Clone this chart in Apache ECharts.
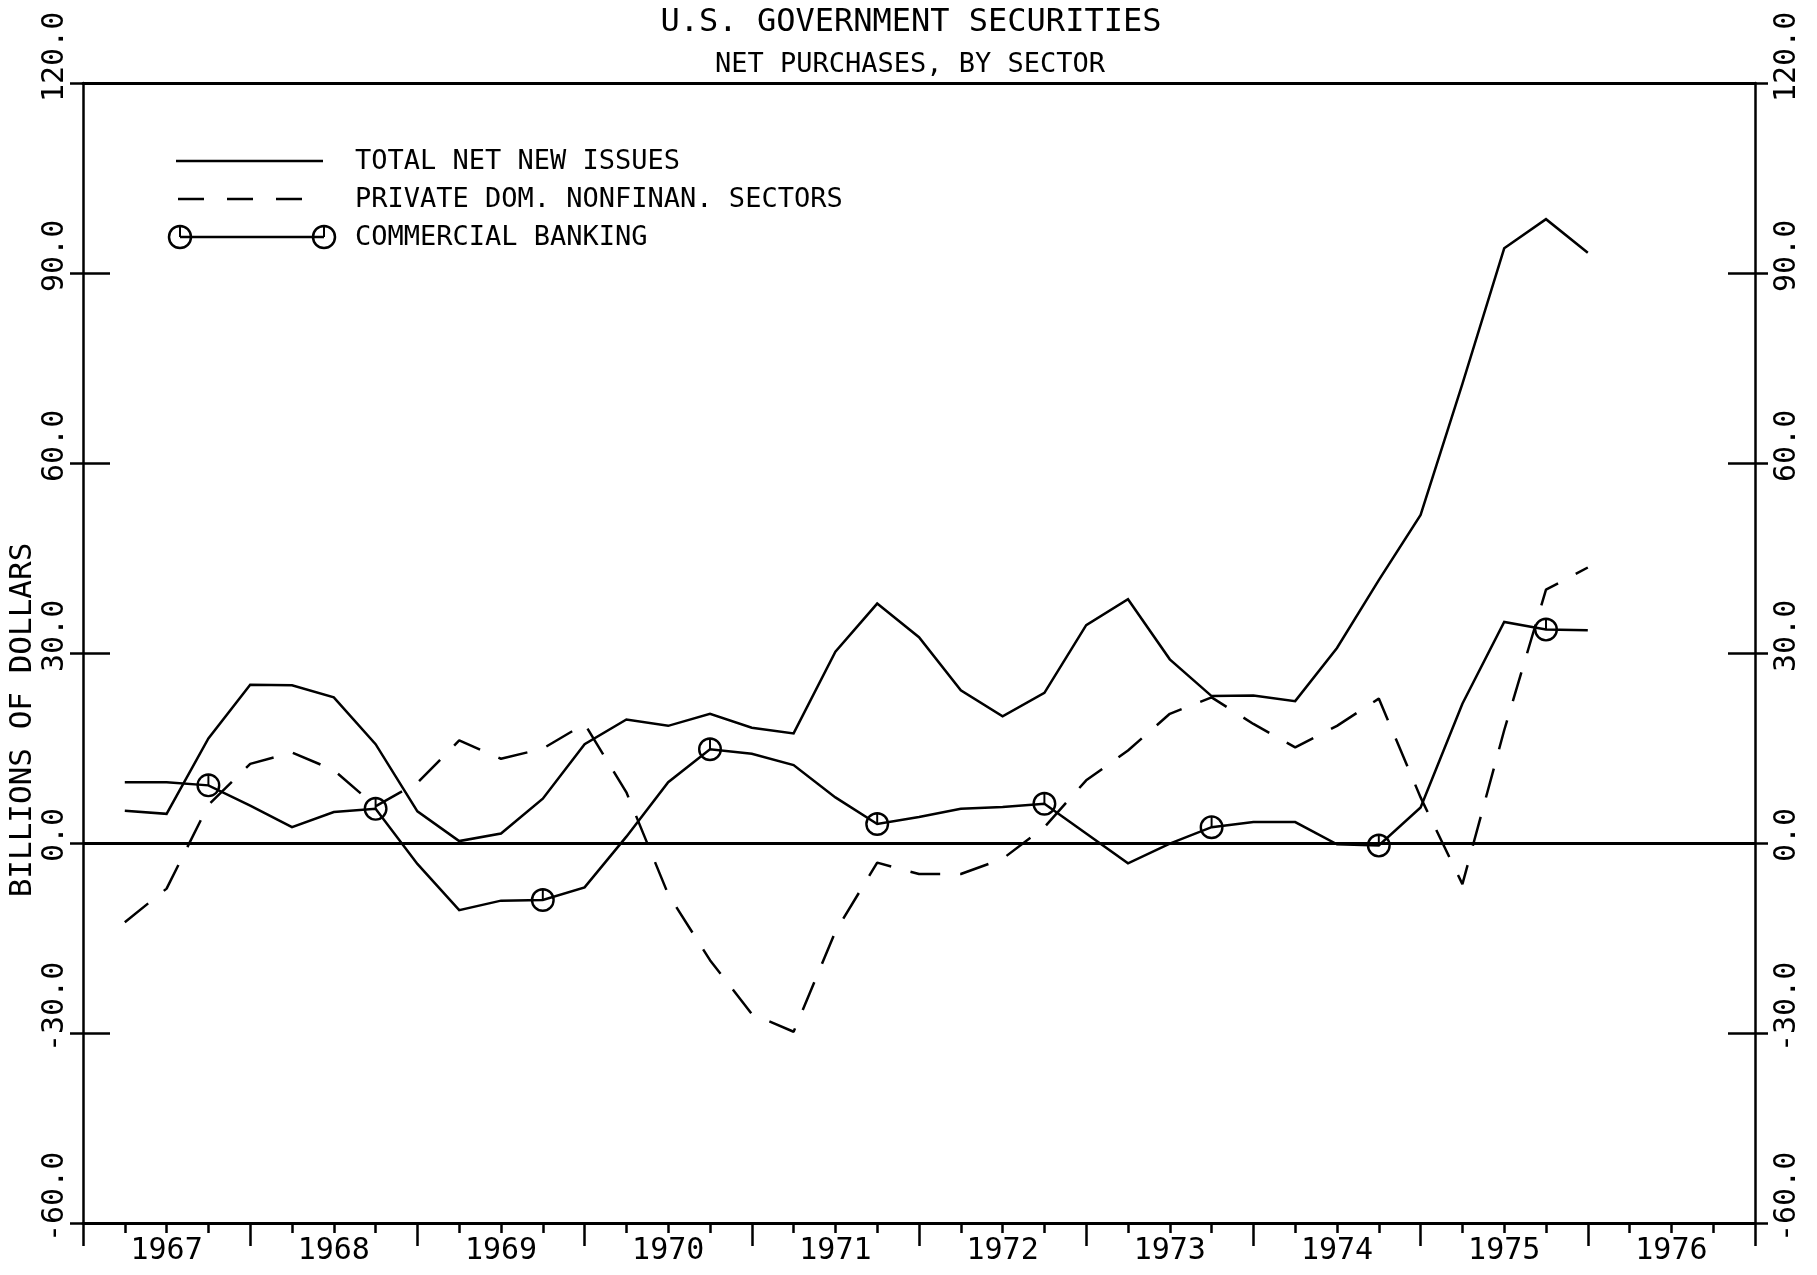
<!DOCTYPE html>
<html><head><meta charset="utf-8">
<script src="https://cdn.jsdelivr.net/npm/echarts@6/dist/echarts.min.js"></script>
<style>html,body{margin:0;padding:0;background:#fff}#c{width:1817px;height:1275px}</style>
</head><body><div id="c"></div>
<script>
// ---- data (quarterly, billions of dollars) ----
const quarters = ['1967Q1','1967Q2','1967Q3','1967Q4','1968Q1','1968Q2','1968Q3','1968Q4',
  '1969Q1','1969Q2','1969Q3','1969Q4','1970Q1','1970Q2','1970Q3','1970Q4',
  '1971Q1','1971Q2','1971Q3','1971Q4','1972Q1','1972Q2','1972Q3','1972Q4',
  '1973Q1','1973Q2','1973Q3','1973Q4','1974Q1','1974Q2','1974Q3','1974Q4',
  '1975Q1','1975Q2','1975Q3','1975Q4'];
const totalNetNewIssues = [5.1, 4.6, 16.5, 25.0, 24.9, 23.0, 15.6, 5.0, 0.3, 1.5, 7.0, 15.6,
  19.5, 18.5, 20.4, 18.2, 17.3, 30.2, 37.8, 32.5, 24.1, 20.0, 23.7, 34.4,
  38.5, 29.0, 23.2, 23.3, 22.4, 30.8, 41.5, 51.8, 72.5, 93.9, 98.5, 93.2];
const privateDomNonfinan = [-12.5, -7.2, 6.0, 12.5, 14.3, 11.5, 5.8, 9.5, 16.2, 13.3, 14.9, 18.8,
  8.0, -8.1, -18.5, -27.0, -29.8, -14.0, -3.1, -4.9, -4.9, -2.5, 2.5, 9.9,
  14.6, 20.4, 23.0, 18.8, 15.1, 18.5, 22.8, 7.2, -6.5, 17.8, 40.0, 43.5];
const commercialBanking = [9.6, 9.6, 9.1, 5.9, 2.5, 4.9, 5.4, -3.3, -10.6, -9.1, -9.0, -7.0,
  1.0, 9.6, 14.8, 14.1, 12.3, 7.2, 3.0, 4.1, 5.4, 5.7, 6.2, 1.5,
  -3.2, -0.1, 2.5, 3.3, 3.3, -0.2, -0.4, 5.6, 22.0, 34.9, 33.7, 33.6];
const yearLabels = ['1967','1968','1969','1970','1971','1972','1973','1974','1975','1976'];
const yTickValues = [-60, -30, 0, 30, 60, 90, 120];
const seriesNames = ['TOTAL NET NEW ISSUES', 'PRIVATE DOM. NONFINAN. SECTORS', 'COMMERCIAL BANKING'];

// ---- helpers ----
const FONT = '"DejaVu Sans Mono", "Liberation Mono", monospace';
const BLACK = '#000';
const qToX = q => (+q.slice(0, 4)) + (+q.slice(5)) * 0.25;
const pairs = arr => quarters.map((q, i) => [qToX(q), arr[i]]);
const MARKER = 'path://M0,11A11,11 0 1,1 22,11A11,11 0 1,1 0,11Z M2.2,11A8.8,8.8 0 1,0 19.8,11A8.8,8.8 0 1,0 2.2,11Z M10.1,2.1H11.9V11H10.1Z';

const yFmt = v => yTickValues.indexOf(v) >= 0 ? v.toFixed(1) : '';
const xFmt = v => {
  const f = v - Math.floor(v);
  if (Math.abs(f - 0.5) < 1e-6) return yearLabels[Math.floor(v) - 1967] || '';
  return '';
};

const labelBase = { fontFamily: FONT, fontSize: 30, color: BLACK };
const lw = 2.5;

const chart = echarts.init(document.getElementById('c'), null, { renderer: 'canvas' });
chart.setOption({
  animation: false,
  backgroundColor: '#fff',
  title: [
    { text: 'U.S. GOVERNMENT SECURITIES', left: 911, top: 7, textAlign: 'center', padding: 0,
      textStyle: { fontFamily: FONT, fontSize: 32, fontWeight: 'normal', color: BLACK } },
    { text: 'NET PURCHASES, BY SECTOR', left: 910, top: 51, textAlign: 'center', padding: 0,
      textStyle: { fontFamily: FONT, fontSize: 27, fontWeight: 'normal', color: BLACK } }
  ],
  grid: { left: 83, right: 62, top: 83, bottom: 52, containLabel: false, outerBoundsMode: 'none' },
  xAxis: [
    { type: 'value', position: 'bottom', min: 1967, max: 1977, interval: 0.25,
      axisLine: { show: true, onZero: false, lineStyle: { color: BLACK, width: 3 } },
      axisTick: { show: true, length: 10, lineStyle: { color: BLACK, width: lw } },
      axisLabel: Object.assign({ show: true, margin: 13, formatter: xFmt, showMinLabel: true, showMaxLabel: true }, labelBase),
      splitLine: { show: false } },
    { type: 'value', position: 'bottom', min: 1967, max: 1977, interval: 1,
      axisLine: { show: false, onZero: false },
      axisTick: { show: true, length: 23, lineStyle: { color: BLACK, width: lw } },
      axisLabel: { show: false }, splitLine: { show: false } },
    { type: 'value', position: 'top', min: 1967, max: 1977, interval: 1,
      axisLine: { show: true, onZero: false, lineStyle: { color: BLACK, width: 3 } },
      axisTick: { show: false }, axisLabel: { show: false }, splitLine: { show: false } }
  ],
  yAxis: [
    { type: 'value', position: 'left', min: -60, max: 120, interval: 30,
      axisLine: { show: true, onZero: false, lineStyle: { color: BLACK, width: lw } },
      axisTick: { show: true, length: 13, lineStyle: { color: BLACK, width: lw } },
      axisLabel: Object.assign({ show: true, rotate: 90, align: 'left', padding: [0, 0, 0, -19], margin: 13, formatter: yFmt }, labelBase),
      splitLine: { show: false } },
    { type: 'value', position: 'left', min: -60, max: 120, interval: 30,
      axisLine: { show: false, onZero: false },
      axisTick: { show: true, inside: true, length: 27, lineStyle: { color: BLACK, width: lw } },
      axisLabel: { show: false }, splitLine: { show: false } },
    { type: 'value', position: 'right', min: -60, max: 120, interval: 30,
      axisLine: { show: true, onZero: false, lineStyle: { color: BLACK, width: lw } },
      axisTick: { show: true, length: 13, lineStyle: { color: BLACK, width: lw } },
      axisLabel: Object.assign({ show: true, rotate: 90, align: 'left', padding: [0, 0, 0, -19], margin: 17, formatter: yFmt }, labelBase),
      splitLine: { show: false } },
    { type: 'value', position: 'right', min: -60, max: 120, interval: 30,
      axisLine: { show: false, onZero: false },
      axisTick: { show: true, inside: true, length: 27, lineStyle: { color: BLACK, width: lw } },
      axisLabel: { show: false }, splitLine: { show: false } }
  ],
  series: [
    { name: seriesNames[0], type: 'line', xAxisIndex: 0, yAxisIndex: 0,
      data: pairs(totalNetNewIssues), symbol: 'none', showSymbol: false,
      lineStyle: { color: BLACK, width: lw, join: 'miter' }, emphasis: { disabled: true }, silent: true,
      markLine: { silent: true, symbol: ['none', 'none'], label: { show: false },
        lineStyle: { color: BLACK, width: 3, type: 'solid' }, emphasis: { disabled: true },
        data: [{ yAxis: 0 }] } },
    { name: seriesNames[1], type: 'line', xAxisIndex: 0, yAxisIndex: 0,
      data: pairs(privateDomNonfinan), symbol: 'none', showSymbol: false,
      lineStyle: { color: BLACK, width: lw, type: [30, 20] }, emphasis: { disabled: true }, silent: true },
    { name: seriesNames[2], type: 'line', xAxisIndex: 0, yAxisIndex: 0,
      data: pairs(commercialBanking).map((p, i) => ({ value: p, symbol: i % 4 === 2 ? MARKER : 'none' })),
      symbolSize: 24, symbolKeepAspect: true, showSymbol: true,
      itemStyle: { color: BLACK }, lineStyle: { color: BLACK, width: lw, join: 'miter' },
      emphasis: { disabled: true }, silent: true }
  ],
  graphic: [
    // legend
    { type: 'line', shape: { x1: 176, y1: 161, x2: 323, y2: 161 }, style: { stroke: BLACK, lineWidth: lw } },
    { type: 'text', x: 355, y: 162, style: { text: seriesNames[0], fontFamily: FONT, fontSize: 27, fill: BLACK, align: 'left', verticalAlign: 'middle' } },
    { type: 'line', shape: { x1: 178, y1: 199, x2: 302, y2: 199 }, style: { stroke: BLACK, lineWidth: lw, lineDash: [26, 23] } },
    { type: 'text', x: 355, y: 200, style: { text: seriesNames[1], fontFamily: FONT, fontSize: 27, fill: BLACK, align: 'left', verticalAlign: 'middle' } },
    { type: 'line', shape: { x1: 180, y1: 237, x2: 324, y2: 237 }, style: { stroke: BLACK, lineWidth: lw } },
    { type: 'circle', shape: { cx: 180, cy: 237, r: 11 }, style: { stroke: BLACK, lineWidth: lw, fill: 'none' } },
    { type: 'line', shape: { x1: 180, y1: 227, x2: 180, y2: 237 }, style: { stroke: BLACK, lineWidth: 2 } },
    { type: 'circle', shape: { cx: 324, cy: 237, r: 11 }, style: { stroke: BLACK, lineWidth: lw, fill: 'none' } },
    { type: 'line', shape: { x1: 324, y1: 227, x2: 324, y2: 237 }, style: { stroke: BLACK, lineWidth: 2 } },
    { type: 'text', x: 355, y: 238, style: { text: seriesNames[2], fontFamily: FONT, fontSize: 27, fill: BLACK, align: 'left', verticalAlign: 'middle' } },
    // y-axis name
    { type: 'text', x: 23, y: 720, rotation: Math.PI / 2,
      style: { text: 'BILLIONS OF DOLLARS', fontFamily: FONT, fontSize: 31, fill: BLACK, align: 'center', verticalAlign: 'middle' } }
  ]
});
</script></body></html>
